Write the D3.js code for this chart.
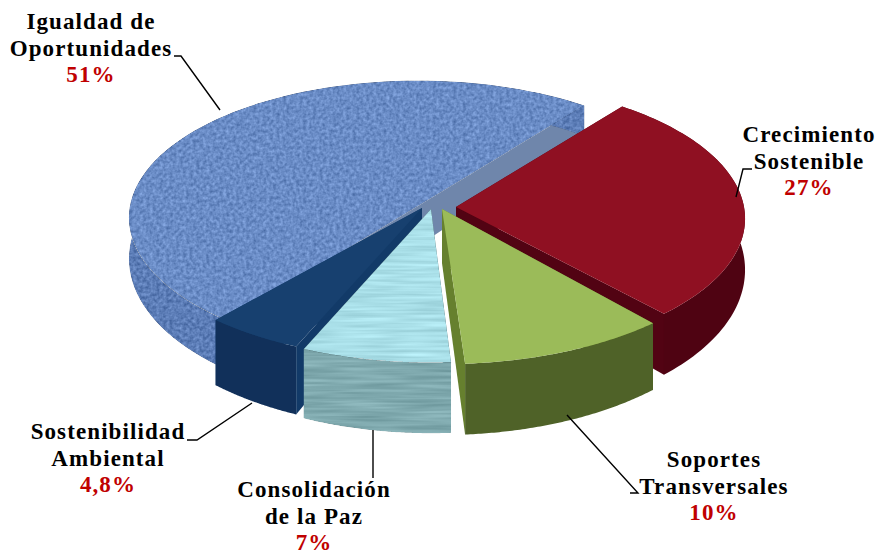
<!DOCTYPE html>
<html>
<head>
<meta charset="utf-8">
<script src="https://cdn.jsdelivr.net/npm/d3@7"></script>
<style>
  html, body { margin: 0; padding: 0; background: #fff; }
  svg { display: block; }
  .lbl { font-family: "Liberation Serif", serif; font-weight: bold; font-size: 23px; letter-spacing: 1.1px; text-anchor: middle; }
</style>
</head>
<body>
<div id="chart"></div>
<script>
// chart values
const categories = ["Crecimiento Sostenible", "Soportes Transversales", "Consolidación de la Paz", "Sostenibilidad Ambiental", "Igualdad de Oportunidades"];
const values = [27, 10, 7, 4.8, 51];
const valueLabels = ["27%", "10%", "7%", "4,8%", "51%"];

const width = 875, height = 555;

// fake 3d settings
const rx = 288, ry = 136, persp = 0.085;
const startAngle = 40 * Math.PI / 180;

// where each slice's tip sits, its colours, size and thickness (same order as categories)
// trim = nudge of the slice edges in degrees, the 3d view in the picture skews them a bit
const look = [
  { tip: [456, 207], grow: 1, depth: 50, trim: [-2, 0], top: "#8f1022", side: "#4f0312", inner: "#520313" },
  { tip: [442, 209], grow: 1.04, depth: 54, trim: [1.5, 2.5], top: "#9bbb59", side: "#4f6228", inner: "#66802e" },
  { tip: [431, 209], grow: 1.03, depth: 54, trim: [3, 4.5], top: "#a9dfe8", side: "#7fa9ae", inner: "#7fa9ae" },
  { tip: [422, 208], grow: 1.02, depth: 53, trim: [4.5, 5], top: "#17406f", side: "#11305a", inner: "#123a68" },
  { tip: [418, 206], grow: 1, depth: 40, trim: [2, -2], top: "#6a8cc6", side: "#5c7db7", inner: "#6f86ab" }
];

// text and leader lines
const labelSpots = [
  { x: 809, y: 142, lines: ["Crecimiento", "Sostenible"] },
  { x: 714, y: 467, lines: ["Soportes", "Transversales"] },
  { x: 314, y: 497, lines: ["Consolidación", "de la Paz"] },
  { x: 108, y: 439, lines: ["Sostenibilidad", "Ambiental"] },
  { x: 91, y: 29, lines: ["Igualdad de", "Oportunidades"] }
];
const leaders = [
  [[736, 197], [743, 169], [752, 169]],
  [[567, 415], [638, 493], [630, 493]],
  [[373, 430], [373, 478]],
  [[252, 403], [197, 440], [187, 440]],
  [[220, 110], [181, 56], [174, 56]]
];

const svg = d3.select("#chart").append("svg")
    .attr("width", width)
    .attr("height", height);

// textures for blue and light blue, see feTurbulence docs
const defs = svg.append("defs");
function addGrain(id, freq, mix) {
    const f = defs.append("filter").attr("id", id)
        .attr("color-interpolation-filters", "sRGB")
        .attr("x", "0%").attr("y", "0%").attr("width", "100%").attr("height", "100%");
    f.append("feTurbulence").attr("type", "fractalNoise").attr("baseFrequency", freq)
        .attr("numOctaves", 2).attr("seed", 4).attr("result", "noise");
    f.append("feColorMatrix").attr("in", "noise").attr("type", "matrix")
        .attr("values", "1 0 0 0 0  1 0 0 0 0  1 0 0 0 0  0 0 0 0 1").attr("result", "grey");
    f.append("feComposite").attr("in", "grey").attr("in2", "SourceGraphic").attr("operator", "arithmetic")
        .attr("k1", 0).attr("k2", mix).attr("k3", 1).attr("k4", -mix / 2).attr("result", "mixed");
    f.append("feComposite").attr("in", "mixed").attr("in2", "SourceGraphic").attr("operator", "in");
}
addGrain("grainBlue", "0.3", 0.32);
addGrain("grainLight", "0.015 0.3", 0.22);

const pie = d3.pie()
    .sort(null)
    .startAngle(startAngle)
    .endAngle(startAngle + 2 * Math.PI)
    .value(d => d);

// disc coords to screen, z=1 is the underside
function project(st, angle, r, z) {
    const u = r * Math.sin(angle);
    const v = -r * Math.cos(angle);
    const s = 1 / (1 - persp * v);
    return [
        st.tip[0] + rx * u * s,
        st.tip[1] + ry * v * s + z * st.depth * (1 + 0.3 * v)
    ];
}

const line = d3.line();
const arcs = pie(values);
const toRad = Math.PI / 180;

// painter's order, back to front
const drawOrder = [4, 0, 3, 2, 1];

drawOrder.forEach(function (i) {
    const st = look[i];
    const a0 = arcs[i].startAngle + st.trim[0] * toRad;
    const a1 = arcs[i].endAngle + st.trim[1] * toRad;
    const g = svg.append("g").attr("class", "slice");
    const steps = d3.range(0, 81).map(k => a0 + (a1 - a0) * k / 80);
    const grain = i == 4 ? "url(#grainBlue)" : i == 2 ? "url(#grainLight)" : null;

    const topRim = steps.map(t => project(st, t, st.grow, 0));
    const lowRim = steps.map(t => project(st, t, st.grow, 1));

    // the two cut faces
    [a0, a1].forEach(function (t) {
        g.append("path")
            .attr("d", line([
                project(st, t, 0, 0),
                project(st, t, st.grow, 0),
                project(st, t, st.grow, 1),
                project(st, t, 0, 1)
            ]) + "Z")
            .attr("fill", st.inner);
    });

    // outer wall
    g.append("path")
        .attr("d", line(topRim.concat(lowRim.slice().reverse())) + "Z")
        .attr("fill", st.side)
        .attr("filter", grain);

    // top face
    g.append("path")
        .attr("d", line([project(st, 0, 0, 0)].concat(topRim)) + "Z")
        .attr("fill", st.top)
        .attr("filter", grain);
});

// leader lines
svg.selectAll(".leader")
    .data(leaders)
    .enter()
    .append("path")
    .attr("class", "leader")
    .attr("d", d => line(d))
    .attr("fill", "none")
    .attr("stroke", "#000")
    .attr("stroke-width", 1.4);

// labels
const labels = svg.selectAll(".lbl")
    .data(categories)
    .enter()
    .append("text")
    .attr("class", "lbl")
    .attr("data-name", d => d)
    .attr("x", (d, i) => labelSpots[i].x)
    .attr("y", (d, i) => labelSpots[i].y);

labels.each(function (d, i) {
    const t = d3.select(this);
    labelSpots[i].lines.forEach(function (txt, k) {
        t.append("tspan")
            .attr("x", labelSpots[i].x)
            .attr("dy", k == 0 ? 0 : 26.5)
            .text(txt);
    });
    t.append("tspan")
        .attr("x", labelSpots[i].x)
        .attr("dy", 26.5)
        .attr("fill", "#c00000")
        .text(valueLabels[i]);
});
</script>
</body>
</html>
